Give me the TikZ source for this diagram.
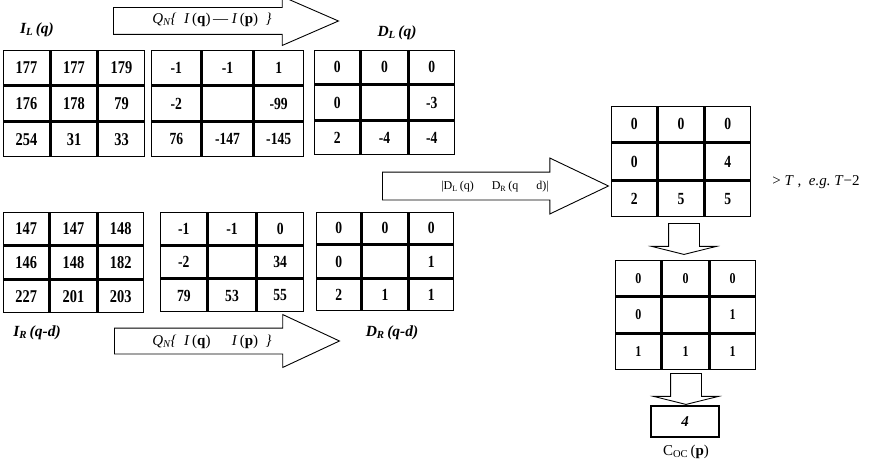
\documentclass[tikz,border=0pt]{standalone}
\usepackage{fontspec}
\setmainfont{Liberation Serif}
\newfontfamily\cellfont{Liberation Serif}[FakeStretch=0.8]
\usetikzlibrary{matrix,shapes.arrows}

\tikzset{
  grid3/.style={matrix of nodes, nodes in empty cells, column sep=0pt, row sep=0pt,
    nodes={draw, line width=1.5pt, outer sep=0pt, inner sep=0pt, anchor=center}},
  blockarrow/.style={single arrow, draw, line width=0.9pt, text height=0pt, text depth=0pt,
    inner xsep=0pt, minimum width=0pt, single arrow head indent=0pt},
  lbl/.style={font=\fontsize{15.5}{15.5}\selectfont\bfseries\itshape},
}

\begin{document}
\begin{tikzpicture}[x=1pt, y=-1pt]
  \useasboundingbox (0,0) rectangle (878,460);

  % left grids, first row
  \matrix (il) [grid3, nodes={minimum width=46pt, minimum height=34.3pt, font=\cellfont\fontsize{18}{18}\selectfont\bfseries}] at (74,103.5) {
    177 & 177 & 179 \\
    176 & 178 & 79 \\
    254 & 31 & 33 \\
  };
  \matrix (ql) [grid3, nodes={minimum width=49.7pt, minimum height=34.3pt, font=\cellfont\fontsize{17}{17}\selectfont\bfseries}] at (227.5,103.5) {
    -1 & -1 & 1 \\
    -2 & & -99 \\
    76 & -147 & -145 \\
  };
  \matrix (dl) [grid3, nodes={minimum width=45.7pt, minimum height=33.7pt, font=\cellfont\fontsize{17}{17}\selectfont\bfseries}] at (384.5,102.5) {
    0 & 0 & 0 \\
    0 & & -3 \\
    2 & -4 & -4 \\
  };

  % left grids, second row
  \matrix (ir) [grid3, nodes={minimum width=45.7pt, minimum height=32.3pt, font=\cellfont\fontsize{18}{18}\selectfont\bfseries}] at (73.5,262.5) {
    147 & 147 & 148 \\
    146 & 148 & 182 \\
    227 & 201 & 203 \\
  };
  \matrix (qr) [grid3, nodes={minimum width=46.7pt, minimum height=32pt, font=\cellfont\fontsize{17}{17}\selectfont\bfseries}] at (232,262) {
    -1 & -1 & 0 \\
    -2 & & 34 \\
    79 & 53 & 55 \\
  };
  \matrix (dr) [grid3, nodes={minimum width=44.7pt, minimum height=31.7pt, font=\cellfont\fontsize{17}{17}\selectfont\bfseries}] at (385,261.5) {
    0 & 0 & 0 \\
    0 & & 1 \\
    2 & 1 & 1 \\
  };

  % right column
  \matrix (ad) [grid3, nodes={minimum width=45.3pt, minimum height=35.7pt, font=\cellfont\fontsize{17}{17}\selectfont\bfseries}] at (681,161.5) {
    0 & 0 & 0 \\
    0 & & 4 \\
    2 & 5 & 5 \\
  };
  \matrix (th) [grid3, nodes={minimum width=45.7pt, minimum height=35.3pt, font=\cellfont\fontsize{15}{15}\selectfont\bfseries}] at (685.5,315) {
    0 & 0 & 0 \\
    0 & & 1 \\
    1 & 1 & 1 \\
  };
  \node[draw, line width=1.5pt, minimum width=68pt, minimum height=31pt, font=\fontsize{15}{15}\selectfont\bfseries\itshape] (coc) at (685,421.5) {4};

  % block arrows
  \node[blockarrow, inner ysep=13pt, single arrow head extend=11pt, single arrow tip angle=47, minimum height=225pt, anchor=tail] (qtop) at (113,21) {};
  \node[blockarrow, inner ysep=13.5pt, single arrow head extend=14pt, single arrow tip angle=51, minimum height=226pt, anchor=tail] (absd) at (382,186) {};
  \node[blockarrow, inner ysep=12.5pt, single arrow head extend=13.5pt, single arrow tip angle=50, minimum height=225pt, anchor=tail] (qbot) at (114,341) {};
  \node[blockarrow, rotate=-90, inner ysep=15pt, single arrow head extend=17pt, single arrow tip angle=152, minimum height=31pt, anchor=tail] (down1) at (684,223) {};
  \node[blockarrow, rotate=-90, inner ysep=15pt, single arrow head extend=17pt, single arrow tip angle=152, minimum height=31pt, anchor=tail] (down2) at (686,373) {};

  % labels
  \node[lbl] (ilname) at (37,30) {I\textsubscript{L}\,(q)};
  \node[lbl] (dlname) at (397,33) {D\textsubscript{L}\,(q)};
  \node[lbl] (irname) at (37,333) {I\textsubscript{R}\,(q-d)};
  \node[lbl] (drname) at (392,333) {D\textsubscript{R}\,(q-d)};
  \node[font=\fontsize{15}{15}\selectfont] (qtoptext) at (212,20)
    {\textit{Q\textsubscript{N}\{\ \ I}\,(\textbf{q})\,—\ \textit{I}\,(\textbf{p})\ \ \textit{\}}};
  \node[font=\fontsize{15}{15}\selectfont] (qbottext) at (212,342)
    {\textit{Q\textsubscript{N}\{\ \ I}\,(\textbf{q})\,\phantom{—}\ \textit{I}\,(\textbf{p})\ \ \textit{\}}};
  \node[font=\fontsize{12}{12}\selectfont] (absdtext) at (495,187)
    {|D\textsubscript{L}\,(q)\hspace{1.5em}D\textsubscript{R}\,(q\hspace{1.5em}d)|};
  \node[font=\fontsize{15}{15}\selectfont] (thtext) at (816,182) {> \textit{T}\ ,\ \ \textit{e.g.\ T}−2};
  \node[font=\fontsize{15}{15}\selectfont] (coctext) at (686,452) {C\textsubscript{OC}\,(\textbf{p})};
\end{tikzpicture}
\end{document}
